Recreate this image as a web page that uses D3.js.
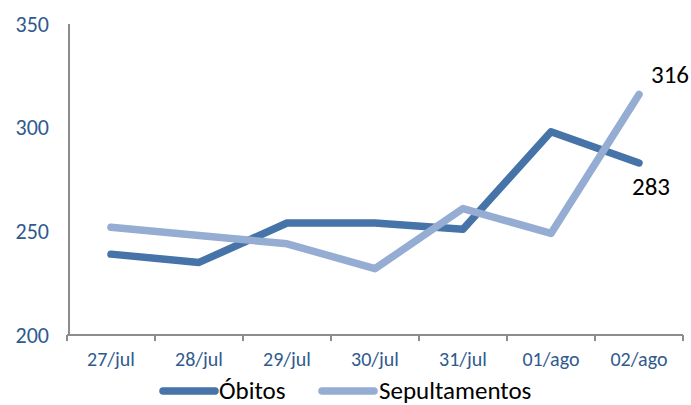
<!DOCTYPE html>
<html>
<head>
<meta charset="utf-8">
<script src="https://cdn.jsdelivr.net/npm/d3@7"></script>
<style>
  body { margin: 0; background: #fff; }
  text { font-family: Carlito, Calibri, Lato, sans-serif; }
</style>
</head>
<body>
<div id="chart"></div>
<script>
// data
const days = ["27/jul", "28/jul", "29/jul", "30/jul", "31/jul", "01/ago", "02/ago"];
const obitos = [239, 235, 254, 254, 251, 298, 283];
const sepultamentos = [252, 248, 244, 232, 261, 249, 316];
const yTicks = [200, 250, 300, 350];

const W = 691, H = 405;
const plotLeft = 67, plotRight = 683, plotTop = 24, plotBottom = 335;

const svg = d3.select("#chart").append("svg")
  .attr("width", W).attr("height", H);

const x = d3.scaleBand().domain(days).range([plotLeft, plotRight]);
const y = d3.scaleLinear().domain([200, 350]).range([plotBottom, plotTop]);

// y axis
svg.append("line")
  .attr("x1", plotLeft + 2).attr("x2", plotLeft + 2)
  .attr("y1", plotTop).attr("y2", plotBottom)
  .attr("stroke", "#8c8c8c").attr("stroke-width", 2);

svg.selectAll("text.ytick")
  .data(yTicks).enter().append("text")
  .attr("class", "ytick")
  .attr("x", 49).attr("y", d => y(d))
  .attr("text-anchor", "end")
  .attr("dominant-baseline", "central")
  .style("font-size", "22px")
  .style("fill", "#2f5a8e")
  .text(d => d);

// x axis
const xAxis = svg.append("g")
  .attr("transform", `translate(0,${plotBottom})`)
  .call(d3.axisBottom(x).tickSize(0).tickPadding(17));
xAxis.select(".domain").attr("stroke", "#8c8c8c").attr("stroke-width", 2)
  .attr("d", `M${plotLeft},0H${plotRight}`);
xAxis.selectAll("text").style("font-size", "20px").style("fill", "#2f5a8e")
  .style("font-family", "Carlito, Calibri, Lato, sans-serif");

// tick marks between bands
const bounds = days.map(d => x(d)).concat([plotRight]);
svg.selectAll("line.xtick")
  .data(bounds).enter().append("line")
  .attr("class", "xtick")
  .attr("x1", d => d).attr("x2", d => d)
  .attr("y1", plotBottom).attr("y2", plotBottom + 6)
  .attr("stroke", "#8c8c8c").attr("stroke-width", 2);

const cx = d => x(d) + x.bandwidth() / 2;

const series = [
  { name: "Óbitos", values: obitos, color: "#4673a8" },
  { name: "Sepultamentos", values: sepultamentos, color: "#95acd3" }
];

const line = d3.line()
  .x((d, i) => cx(days[i]))
  .y(d => y(d));

series.forEach(s => {
  svg.append("path")
    .datum(s.values)
    .attr("fill", "none")
    .attr("stroke", s.color)
    .attr("stroke-width", 7.5)
    .attr("stroke-linejoin", "round")
    .attr("stroke-linecap", "round")
    .attr("d", line);
});

// end labels
const last = days.length - 1;
svg.append("text")
  .attr("x", cx(days[last]) + 31).attr("y", y(sepultamentos[last]) - 11)
  .attr("text-anchor", "middle")
  .style("font-size", "25px").style("fill", "#000")
  .text(sepultamentos[last]);
svg.append("text")
  .attr("x", cx(days[last]) + 12).attr("y", y(obitos[last]) + 32)
  .attr("text-anchor", "middle")
  .style("font-size", "25px").style("fill", "#000")
  .text(obitos[last]);

// legend
const legendItems = [
  { s: series[0], x: 163, tx: 219 },
  { s: series[1], x: 322, tx: 379 }
];
legendItems.forEach(l => {
  svg.append("line")
    .attr("x1", l.x).attr("x2", l.x + 52)
    .attr("y1", 391).attr("y2", 391)
    .attr("stroke", l.s.color).attr("stroke-width", 7.5)
    .attr("stroke-linecap", "round");
  svg.append("text")
    .attr("x", l.tx).attr("y", 390)
    .attr("dominant-baseline", "central")
    .style("font-size", "25px").style("fill", "#000")
    .text(l.s.name);
});
</script>
</body>
</html>
